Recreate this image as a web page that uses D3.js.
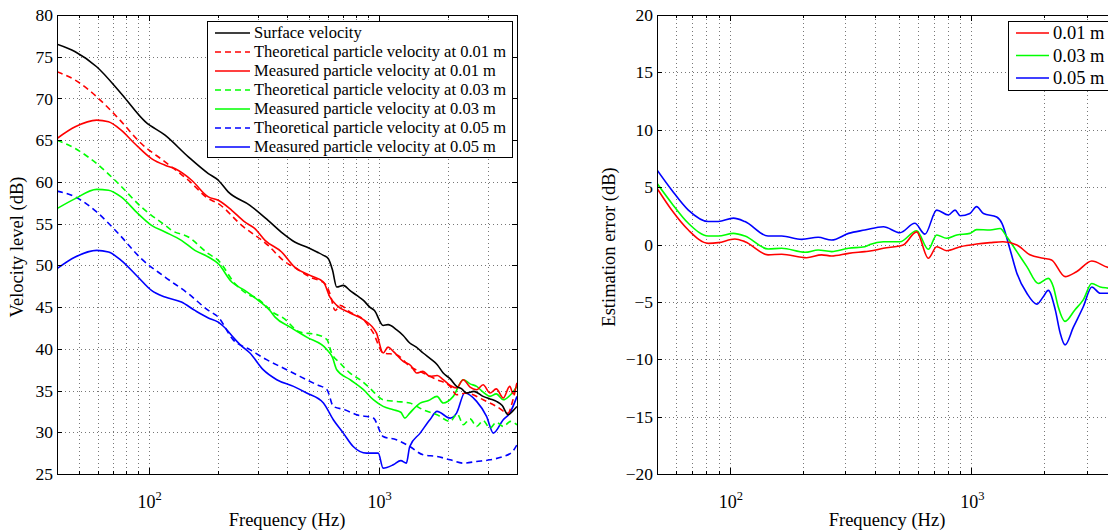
<!DOCTYPE html>
<meta charset="utf-8">
<style>
body { margin: 0; background: #fff; }
svg { font-family: "Liberation Serif", "Times New Roman", serif; display: block; }
.grid line { stroke: #777; stroke-width: 1; stroke-dasharray: 1,3; shape-rendering: crispEdges; }
.frame { fill: none; stroke: #000; stroke-width: 1; shape-rendering: crispEdges; }
.tick line { stroke: #000; shape-rendering: crispEdges; }
.curve { fill: none; stroke-width: 1.6; stroke-linejoin: round; }
</style>
<body>
<script src="https://cdn.jsdelivr.net/npm/d3@7"></script>
<script>

// ---- data: [frequency Hz, level dB] ----
const surfaceVel = [[40,76.5],[48,75.6],[59.5,73.8],[76,70.6],[97,67.2],[118,65.6],[149,63.0],[182,61.0],[201,60.2],[222,58.8],[276,57.2],[331,55.4],[385,53.8],[432,52.8],[487,52.2],[540,51.6],[576,51.2],[605,50.8],[630,49.5],[658,47.4],[703,47.6],[750,47.0],[804,46.4],[860,45.8],[916,45.0],[960,44.6],[1047,42.8],[1100,42.9],[1196,42.3],[1280,41.6],[1367,40.7],[1460,40.2],[1563,39.5],[1700,38.7],[1800,38.1],[1911,37.1],[2050,36.4],[2184,35.5],[2300,35.2],[2412,34.7],[2600,34.9],[2850,34.3],[3050,34.0],[3258,33.7],[3450,33.2],[3659,32.1],[3850,32.6],[4000,33.1]];

const theory001 = [[40,73.2],[48,72.2],[59.5,70.2],[74,67.6],[93,64.6],[118,62.4],[149,60.2],[182,58.0],[201,57.4],[254,54.8],[331,52.4],[385,50.6],[440,49.6],[504,48.6],[585,47.8],[615,46.6],[648,44.6],[680,45.2],[752,44.4],[860,43.5],[949,41.9],[1047,39.5],[1196,39.3],[1367,37.9],[1563,37.1],[1796,36.3],[2048,35.5],[2184,34.5],[2412,34.7],[2850,33.9],[3258,33.1],[3659,32.3],[3850,34.0],[4000,35.9]];

const meas001 = [[40,65.2],[48,66.6],[59.5,67.4],[67,67.2],[76,66.2],[87,64.6],[103,62.8],[118,62.0],[130,61.6],[154,60.2],[182,58.2],[201,57.8],[230,56.6],[262,55.2],[290,54.4],[321,53.0],[379,51.6],[432,49.8],[504,48.8],[576,48.0],[615,46.2],[658,45.2],[752,44.3],[860,43.5],[979,41.9],[1047,39.5],[1100,40.2],[1159,39.7],[1280,38.5],[1380,38.0],[1465,37.1],[1560,37.3],[1672,36.7],[1800,36.8],[1911,36.3],[2050,35.6],[2184,35.3],[2335,36.3],[2500,35.4],[2670,35.1],[2850,35.7],[3053,34.7],[3250,35.2],[3485,34.1],[3720,35.5],[3850,34.6],[4000,35.9]];

const theory003 = [[40,65.0],[48,64.0],[59.5,62.2],[74,59.8],[93,57.0],[118,54.8],[126,54.2],[149,53.4],[182,51.4],[201,50.6],[238,47.8],[276,46.4],[290,46.2],[355,44.2],[385,43.7],[455,42.0],[539,41.7],[597,41.1],[625,39.5],[680,38.3],[752,37.1],[831,36.3],[916,35.3],[1047,33.9],[1196,33.7],[1367,33.5],[1563,32.7],[1796,32.1],[2048,31.3],[2200,32.2],[2335,30.9],[2500,31.6],[2670,30.7],[2850,31.4],[3053,30.5],[3250,31.2],[3485,30.7],[3750,31.3],[4000,30.9]];

const meas003 = [[40,56.8],[48,58.0],[59.5,59.1],[67,59.0],[76,58.2],[90,56.2],[103,54.8],[118,54.0],[139,53.0],[159,51.8],[182,51.0],[201,50.2],[230,48.0],[262,47.0],[300,45.8],[337,44.6],[355,43.8],[413,42.6],[487,41.4],[597,39.9],[630,39.0],[658,37.5],[752,36.3],[860,35.1],[949,33.9],[1047,33.1],[1159,32.7],[1250,32.4],[1302,31.7],[1367,32.3],[1517,33.5],[1650,33.8],[1796,34.3],[1911,33.5],[2113,34.3],[2335,36.3],[2500,35.8],[2670,35.5],[2850,34.8],[3053,34.3],[3250,34.6],[3485,33.9],[3750,34.5],[4000,35.5]];

const theory005 = [[40,58.9],[48,58.2],[59.5,56.4],[74,53.8],[93,50.8],[118,48.6],[149,46.6],[182,44.6],[201,43.8],[233,41.1],[276,39.9],[326,38.7],[385,37.7],[455,36.7],[539,35.7],[597,35.1],[636,33.1],[713,32.7],[804,32.1],[949,31.7],[1047,29.5],[1196,29.1],[1367,28.3],[1563,27.3],[1796,27.1],[2048,26.7],[2335,26.3],[2670,26.5],[3053,26.7],[3485,27.1],[3800,27.6],[4000,28.5]];

const meas005 = [[40,49.6],[48,51.0],[59.5,51.8],[67,51.6],[76,50.6],[90,48.6],[103,47.0],[118,46.2],[139,45.6],[159,44.6],[182,43.7],[201,43.2],[217,42.4],[233,41.4],[250,40.5],[276,39.5],[315,37.5],[361,36.3],[427,35.5],[487,34.7],[576,33.5],[636,31.5],[703,29.9],[776,28.3],[888,27.5],[997,27.5],[1047,25.7],[1159,26.1],[1250,26.6],[1321,26.3],[1367,28.3],[1517,29.9],[1672,31.5],[1796,32.5],[2048,31.7],[2184,32.3],[2370,34.7],[2670,33.7],[2949,31.9],[3155,29.9],[3485,31.5],[3720,32.3],[4000,34.3]];

const err001 = [[50,4.9],[57.5,3.0],[67.4,1.26],[81.5,0.1],[89.7,0.16],[105,0.48],[115.6,0.24],[144,-0.9],[164,-0.85],[208,-1.15],[240,-0.9],[264,-1.0],[310,-0.77],[362,-0.62],[380,-0.57],[432,-0.33],[522,-0.04],[593,1.1],[663,-1.2],[718,-0.19],[789,-0.54],[898,-0.19],[1050,0.04],[1194,0.16],[1350,0.24],[1541,-0.04],[1746,-0.9],[1982,-1.2],[2145,-1.35],[2439,-2.8],[2720,-2.37],[3146,-1.44],[3677,-2.0],[4000,-2.1]];

const err003 = [[50,5.33],[57.5,3.6],[67.4,1.85],[81.5,0.74],[89.7,0.74],[103.5,0.97],[115.6,0.74],[144,-0.39],[164,-0.33],[205,-0.68],[232,-0.48],[264,-0.62],[310,-0.33],[362,-0.19],[380,0.0],[432,0.24],[506,0.24],[593,1.2],[663,-0.42],[718,0.83],[789,0.54],[870,0.83],[985,0.97],[1050,1.3],[1194,1.26],[1314,1.4],[1400,0.68],[1541,-0.62],[1695,-1.93],[1890,-3.4],[2078,-2.95],[2182,-3.7],[2283,-5.4],[2439,-6.7],[2677,-5.7],[2904,-4.8],[3146,-3.4],[3409,-3.7],[3677,-3.8],[4000,-3.9]];

const err005 = [[50,6.5],[57.5,4.75],[67.4,3.0],[81.5,2.0],[89.7,2.0],[103.5,2.3],[115.6,2.0],[144,0.74],[164,0.74],[198.5,0.45],[232,0.63],[264,0.39],[310,0.97],[362,1.26],[432,1.55],[506,1.03],[583,1.85],[642,0.9],[718,3.0],[802,2.57],[855,3.0],[898,2.5],[985,2.7],[1050,3.3],[1121,2.7],[1272,2.4],[1337,1.85],[1447,-0.5],[1541,-2.5],[1695,-4.25],[1862,-5.2],[1982,-4.55],[2078,-4.0],[2222,-5.7],[2327,-7.7],[2439,-8.75],[2641,-7.2],[2904,-5.4],[3146,-3.7],[3409,-4.25],[3677,-4.25],[4000,-4.3]];

const leftSeries = [
  {label: "Surface velocity", data: surfaceVel, color: "#000", dash: null},
  {label: "Theoretical particle velocity at 0.01 m", data: theory001, color: "#f00", dash: "6,4"},
  {label: "Measured particle velocity at 0.01 m", data: meas001, color: "#f00", dash: null},
  {label: "Theoretical particle velocity at 0.03 m", data: theory003, color: "#0f0", dash: "6,4"},
  {label: "Measured particle velocity at 0.03 m", data: meas003, color: "#0f0", dash: null},
  {label: "Theoretical particle velocity at 0.05 m", data: theory005, color: "#00f", dash: "6,4"},
  {label: "Measured particle velocity at 0.05 m", data: meas005, color: "#00f", dash: null}
];
const rightSeries = [
  {label: "0.01 m", data: err001, color: "#f00", dash: null},
  {label: "0.03 m", data: err003, color: "#0f0", dash: null},
  {label: "0.05 m", data: err005, color: "#00f", dash: null}
];

const width = 1108, height = 530;
const serif = "Liberation Serif";
const svg = d3.select("body").append("svg")
    .attr("width", width)
    .attr("height", height)
    .attr("font-family", serif);

function panel(opt) {
  const x = d3.scaleLog().domain(opt.xDomain).range([opt.left, opt.left + 460]);
  const y = d3.scaleLinear().domain(opt.yDomain).range([474, 15]);
  const g = svg.append("g");
  const id = "clip" + opt.left;

  g.append("clipPath").attr("id", id)
    .append("rect")
      .attr("x", x.range()[0]).attr("y", 15)
      .attr("width", 460).attr("height", 459);

  const minor = [];
  for (let d = 10; d <= 1000; d *= 10)
    for (let k = 1; k < 10; k++) {
      const f = d * k;
      if (f > opt.xDomain[0] && f < opt.xDomain[1]) minor.push(f);
    }
  const yTicks = d3.range(opt.yDomain[0], opt.yDomain[1] + 0.1, 5);

  // dotted grid
  const grid = g.append("g").attr("class", "grid");
  grid.selectAll(".v").data(minor).join("line")
      .attr("x1", d => Math.round(x(d)) + 0.5).attr("x2", d => Math.round(x(d)) + 0.5)
      .attr("y1", 15).attr("y2", 474);
  grid.selectAll(".h").data(yTicks.slice(1, -1)).join("line")
      .attr("x1", x.range()[0]).attr("x2", x.range()[1])
      .attr("y1", d => Math.round(y(d)) + 0.5).attr("y2", d => Math.round(y(d)) + 0.5);

  // curves
  const line = d3.line()
      .x(d => x(d[0]))
      .y(d => y(d[1]))
      .curve(d3.curveMonotoneX);
  g.append("g").attr("clip-path", `url(#${id})`)
    .selectAll("path")
    .data(opt.series.slice().reverse())
    .join("path")
      .attr("class", "curve")
      .attr("d", d => line(d.data))
      .attr("stroke", d => d.color)
      .attr("stroke-dasharray", d => d.dash);

  // frame and inward ticks on all sides
  g.append("rect").attr("class", "frame")
      .attr("x", x.range()[0] + 0.5).attr("y", 15.5)
      .attr("width", 460).attr("height", 459);

  g.append("g").attr("transform", "translate(0,474)")
      .call(d3.axisBottom(x).tickValues(minor).tickSizeInner(-3).tickSizeOuter(0).tickFormat(""))
      .call(s => s.select(".domain").remove());
  g.append("g").attr("transform", "translate(0,15)")
      .call(d3.axisTop(x).tickValues(minor).tickSizeInner(-3).tickSizeOuter(0).tickFormat(""))
      .call(s => s.select(".domain").remove());
  g.selectAll(".tick line").filter(d => d === 100 || d === 1000)
      .attr("y2", function() { return +d3.select(this).attr("y2") * 2; });

  g.append("g").attr("transform", `translate(${x.range()[0]},0)`)
      .call(d3.axisLeft(y).tickValues(yTicks).tickSizeInner(-5).tickSizeOuter(0).tickPadding(4))
      .attr("font-family", serif).attr("font-size", 17.5)
      .call(s => s.select(".domain").remove())
      .call(s => s.selectAll("text").attr("fill", "#000"));
  g.append("g").attr("transform", `translate(${x.range()[1]},0)`)
      .call(d3.axisRight(y).tickValues(yTicks).tickSizeInner(-5).tickSizeOuter(0).tickFormat(""))
      .call(s => s.select(".domain").remove());

  // decade labels
  const dec = g.selectAll(".dec").data([100, 1000]).join("text")
      .attr("x", d => x(d) + 1)
      .attr("y", 508)
      .attr("text-anchor", "middle")
      .attr("font-size", 18);
  dec.append("tspan").text("10");
  dec.append("tspan").attr("dy", -8).attr("font-size", 12.5).text(d => Math.log10(d));

  g.append("text")
      .attr("x", (x.range()[0] + x.range()[1]) / 2)
      .attr("y", 526)
      .attr("text-anchor", "middle")
      .attr("font-size", 18.5)
      .text("Frequency (Hz)");
  g.append("text")
      .attr("transform", `translate(${opt.labelX},247) rotate(-90)`)
      .attr("text-anchor", "middle")
      .attr("font-size", 18.5)
      .text(opt.yLabel);

  // legend
  const L = opt.legend;
  const lg = g.append("g");
  lg.append("rect")
      .attr("x", L.x + 0.5).attr("y", 21.5)
      .attr("width", L.w).attr("height", L.h)
      .attr("fill", "#fff").attr("stroke", "#000");
  const row = lg.selectAll(".row").data(opt.series).join("g")
      .attr("transform", (d, i) => `translate(${L.x},${L.y0 + i * L.step})`);
  row.append("line")
      .attr("x1", 8).attr("x2", 8 + L.sample)
      .attr("stroke", d => d.color)
      .attr("stroke-width", 1.6)
      .attr("stroke-dasharray", d => d.dash);
  row.append("text")
      .attr("x", 12 + L.sample)
      .attr("dy", "0.33em")
      .attr("font-size", L.font)
      .text(d => d.label);
}

panel({
  left: 57, xDomain: [40, 4000], yDomain: [25, 80],
  series: leftSeries, yLabel: "Velocity level (dB)", labelX: 23,
  legend: {x: 207, w: 305, h: 136, y0: 33, step: 19, sample: 35, font: 16.5}
});
panel({
  left: 657, xDomain: [50, 4000], yDomain: [-20, 20],
  series: rightSeries, yLabel: "Estimation error (dB)", labelX: 615,
  legend: {x: 1008, w: 130, h: 69, y0: 33, step: 22.5, sample: 33, font: 18.5}
});

</script>
